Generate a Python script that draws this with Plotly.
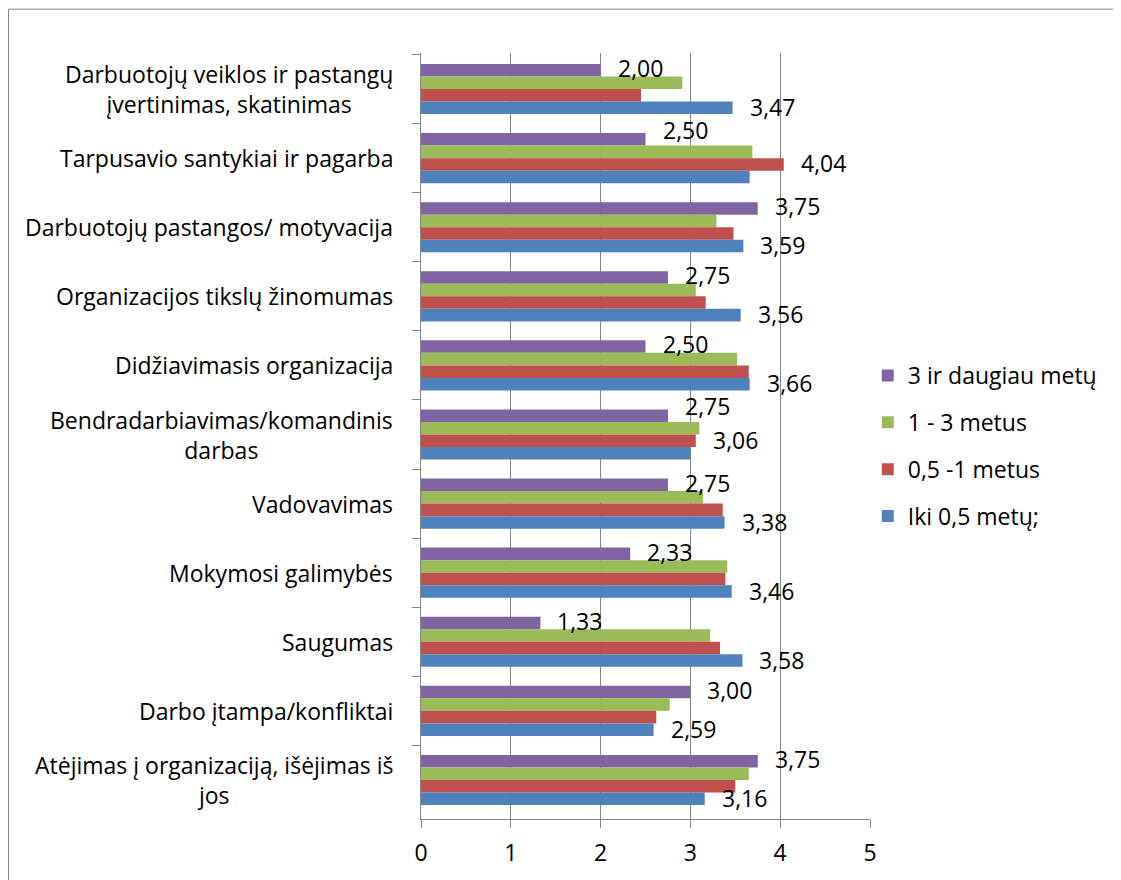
import plotly.graph_objects as go

categories = [
    "Darbuotojų veiklos ir pastangų<br>įvertinimas, skatinimas",
    "Tarpusavio santykiai ir pagarba",
    "Darbuotojų pastangos/ motyvacija",
    "Organizacijos tikslų žinomumas",
    "Didžiavimasis organizacija",
    "Bendradarbiavimas/komandinis<br>darbas",
    "Vadovavimas",
    "Mokymosi galimybės",
    "Saugumas",
    "Darbo įtampa/konfliktai",
    "Atėjimas į organizaciją, išėjimas iš<br>jos",
]

series_names = ["3 ir daugiau metų", "1 - 3 metus", "0,5 -1 metus", "Iki 0,5 metų;"]
series_colors = ["#8064A2", "#9BBB59", "#C0504D", "#4F81BD"]

v_3plus = [2.00, 2.50, 3.75, 2.75, 2.50, 2.75, 2.75, 2.33, 1.33, 3.00, 3.75]
v_1to3 = [2.91, 3.69, 3.29, 3.06, 3.52, 3.10, 3.14, 3.41, 3.22, 2.77, 3.65]
v_05to1 = [2.45, 4.04, 3.48, 3.17, 3.65, 3.06, 3.36, 3.39, 3.33, 2.62, 3.50]
v_to05 = [3.47, 3.66, 3.59, 3.56, 3.66, 3.00, 3.38, 3.46, 3.58, 2.59, 3.16]

# which series carries the lower value label in each category
lower_label_on = ["blue", "red", "blue", "blue", "blue", "red", "blue", "blue", "blue", "blue", "blue"]

values = [v_3plus, v_1to3, v_05to1, v_to05]

FONT = "Open Sans"
FS = 23
GRID = "#868686"

# layout geometry (page has an 8px body margin)
W, H = 1113, 872
ML, MR, MT, MB = 413, 251, 45, 58
BARGAP = 0.274
plot_h = H - MT - MB
slot = plot_h / len(categories)
bar_px = slot * (1 - BARGAP) / len(series_names)


def fmt(v):
    return f"{v:.2f}".replace(".", ",")


fig = go.Figure()
for name, color, vals in zip(series_names, series_colors, values):
    fig.add_trace(go.Bar(
        y=categories, x=vals, orientation="h", name=name,
        marker=dict(color=color, line=dict(width=0)),
        legendgroup=name, hoverinfo="x+name",
    ))

fig.update_layout(
    width=W, height=H,
    margin=dict(l=ML, r=MR, t=MT, b=MB),
    paper_bgcolor="white", plot_bgcolor="white",
    barmode="group", bargap=BARGAP, bargroupgap=0,
    font=dict(family=FONT, size=FS, color="black"),
    showlegend=True,
    legend=dict(x=0.995, xanchor="left", y=0.487, yanchor="middle",
                font=dict(family=FONT, size=FS), tracegroupgap=14,
                bgcolor="rgba(0,0,0,0)"),
    xaxis=dict(range=[0, 5], dtick=1, showgrid=True, gridcolor=GRID, gridwidth=1,
               showline=True, linecolor=GRID, linewidth=1, ticks="outside",
               ticklen=8, tickcolor=GRID, zeroline=False,
               tickfont=dict(family=FONT, size=FS), ticklabelstandoff=5,
               fixedrange=True),
    yaxis=dict(type="category", autorange="reversed", tickson="boundaries",
               ticks="outside", ticklen=8, tickcolor=GRID, showticklabels=False,
               showline=True, linecolor=GRID, linewidth=1, showgrid=False,
               fixedrange=True),
)

# category labels, lines centred within a right-aligned block
for cat in categories:
    fig.add_annotation(
        xref="paper", yref="y", x=0, y=cat, xshift=-26,
        xanchor="right", yanchor="middle", align="center",
        text=cat, showarrow=False, font=dict(family=FONT, size=FS, color="black"),
    )

# value labels at the outer end of the bars
series_index = {"purple": 0, "green": 1, "red": 2, "blue": 3}


def bar_center_shift(idx):
    # pixel offset (upwards positive) of a series' bar centre from the category centre
    return (1.5 - idx) * bar_px


for i, cat in enumerate(categories):
    # upper label (3 ir daugiau metų)
    lift = 9 if lower_label_on[i] == "red" else 2
    fig.add_annotation(
        xref="x", yref="y", x=v_3plus[i], y=cat, xanchor="left", yanchor="middle",
        xshift=15, yshift=bar_center_shift(0) + lift, text=fmt(v_3plus[i]),
        showarrow=False, font=dict(family=FONT, size=FS, color="black"),
    )
    s = lower_label_on[i]
    idx = series_index[s]
    val = values[idx][i]
    fig.add_annotation(
        xref="x", yref="y", x=val, y=cat, xanchor="left", yanchor="middle",
        xshift=15, yshift=bar_center_shift(idx) + 1, text=fmt(val),
        showarrow=False, font=dict(family=FONT, size=FS, color="black"),
    )

# outer chart border
fig.add_shape(type="rect", xref="paper", yref="paper",
              x0=(0.5 - ML) / (W - ML - MR), x1=(1130 - ML) / (W - ML - MR),
              y0=-0.2, y1=(plot_h + MT - 1) / plot_h,
              line=dict(color=GRID, width=1), fillcolor="rgba(0,0,0,0)", layer="below")

fig.write_html("out.html")
